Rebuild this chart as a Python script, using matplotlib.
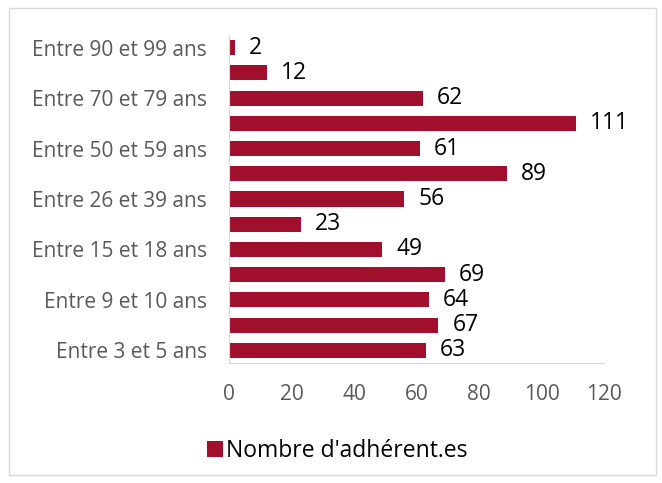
import matplotlib.pyplot as plt
from matplotlib.patches import Rectangle

# age groups, bottom to top (only every other label is shown on the axis)
categories = ["Entre 3 et 5 ans", "Entre 6 et 8 ans", "Entre 9 et 10 ans",
              "Entre 11 et 14 ans", "Entre 15 et 18 ans", "Entre 19 et 25 ans",
              "Entre 26 et 39 ans", "Entre 40 et 49 ans", "Entre 50 et 59 ans",
              "Entre 60 et 69 ans", "Entre 70 et 79 ans", "Entre 80 et 89 ans",
              "Entre 90 et 99 ans"]
values = [63, 67, 64, 69, 49, 23, 56, 89, 61, 111, 62, 12, 2]
x_ticks = [0, 20, 40, 60, 80, 100, 120]
series_name = "Nombre d'adhérent.es"

bar_color = "#A0102C"
plt.rcParams['font.family'] = ['Open Sans', 'DejaVu Sans']

fig = plt.figure(figsize=(6.62, 4.83), dpi=100)
W, H = 662, 483
ax = fig.add_axes([229 / W, 1 - 363 / H, (604 - 229) / W, (363 - 35) / H])

pos = list(range(len(categories)))
ax.barh(pos, values, height=0.6, color=bar_color, label=series_name)
for p, v in zip(pos, values):
    ax.text(v + 4.5, p, str(v), va='center', ha='left', fontsize=16.5, color='black')

ax.set_xlim(0, 120)
ax.set_ylim(-0.5, len(categories) - 0.5)
ax.set_xticks(x_ticks)
ax.set_yticks(pos[::2])
ax.set_yticklabels(categories[::2])
ax.tick_params(axis='both', length=0, colors='#595959', labelsize=15)
ax.tick_params(axis='x', pad=15)
ax.tick_params(axis='y', pad=16)
for s in ['top', 'right']:
    ax.spines[s].set_visible(False)
ax.spines['left'].set_color('#D9D9D9')
ax.spines['bottom'].set_color('#D9D9D9')

leg = fig.legend(loc='center', bbox_to_anchor=(337 / W, 1 - 451 / H), frameon=False,
                 fontsize=16.5, handlelength=0.7, handleheight=0.7, handletextpad=0.15)

# outer frame
fig.patches.append(Rectangle((9 / W, 8 / H), (656 - 9) / W, (475 - 8) / H,
                             transform=fig.transFigure, fill=False,
                             edgecolor='#D9D9D9', linewidth=1))

fig.savefig("out.png", dpi=100)
